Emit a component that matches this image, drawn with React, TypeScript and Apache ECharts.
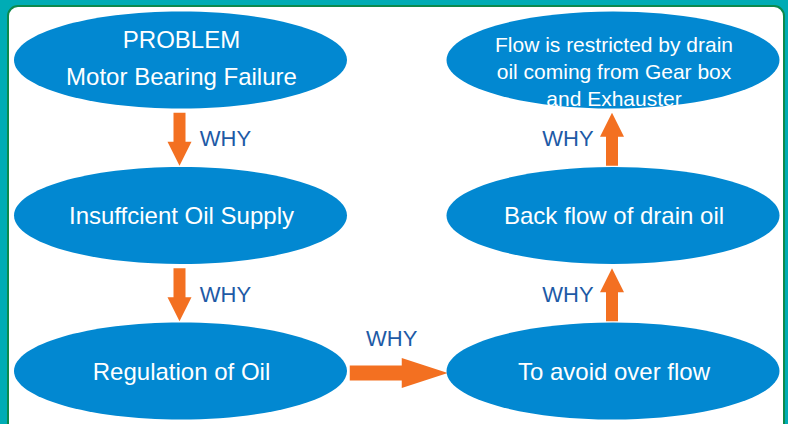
import React, { useEffect, useRef } from "react";
import * as echarts from "echarts";

// ---- Diagram content ----
const nodeLabels = [
  "PROBLEM\nMotor Bearing Failure",
  "Insuffcient Oil Supply",
  "Regulation of Oil",
  "To avoid over flow",
  "Back flow of drain oil",
  "Flow is restricted by drain\noil coming from Gear box\nand Exhauster",
];
const nodeCols = [0, 0, 0, 1, 1, 1];
const nodeRows = [0, 1, 2, 2, 1, 0];

const arrowFrom = [0, 1, 2, 3, 4];
const arrowTo = [1, 2, 3, 4, 5];
const arrowLabels = ["WHY", "WHY", "WHY", "WHY", "WHY"];

// ---- Styles ----
const FONT = '"Liberation Sans", Arial, Helvetica, sans-serif';
const BLUE = "#0288D1";
const ORANGE = "#F37021";
const WHY_COLOR = "#1E5AA6";
const TEAL = "#00ACB5";
const GREEN = "#0C8A4C";

const nodeTextStyle: Record<number, { size: number; lineHeight: number; dy: number }> = {
  0: { size: 24, lineHeight: 37, dy: -2.5 },
  5: { size: 21, lineHeight: 27, dy: 11 },
};
const defaultTextStyle = { size: 24, lineHeight: 28, dy: 0 };

export default function App() {
  const ref = useRef<HTMLDivElement | null>(null);

  useEffect(() => {
    if (!ref.current) return;
    const chart = echarts.init(ref.current, undefined, { renderer: "svg" });

    const nodeData = nodeLabels.map((_, i) => [nodeCols[i], nodeRows[i], i]);
    const arrowData = arrowFrom.map((f, i) => [f, arrowTo[i], i]);

    const option: any = {
      animation: false,
      backgroundColor: TEAL,
      grid: { left: 180.5, top: 60, width: 432.5, height: 311, containLabel: false },
      xAxis: { type: "value", min: 0, max: 1, show: false },
      yAxis: { type: "value", min: 0, max: 2, inverse: true, show: false },
      graphic: [
        {
          type: "rect",
          z: 0,
          shape: { x: 8, y: 6, width: 776, height: 440, r: 10 },
          style: { fill: "#ffffff", stroke: GREEN, lineWidth: 2 },
        },
      ],
      series: [
        {
          type: "custom",
          name: "arrows",
          coordinateSystem: "cartesian2d",
          z: 3,
          data: arrowData,
          encode: { x: 0, y: 1 },
          renderItem: (params: any, api: any) => {
            const a = api.value(0);
            const b = api.value(1);
            const idx = api.value(2);
            const p0 = api.coord([nodeCols[a], nodeRows[a]]);
            const p1 = api.coord([nodeCols[b], nodeRows[b]]);
            const dx = p1[0] - p0[0];
            const dy = p1[1] - p0[1];
            let pts: number[][];
            let whyX: number;
            let whyY: number;
            if (Math.abs(dx) > Math.abs(dy)) {
              const dir = Math.sign(dx);
              const cy = p0[1] + 2;
              const mid = (p0[0] + p1[0]) / 2 + 2;
              const L = 98, s = 15, w = 30, h = 46;
              const start = mid - (dir * L) / 2;
              const tip = mid + (dir * L) / 2;
              const neck = tip - dir * h;
              pts = [
                [start, cy - s / 2],
                [neck, cy - s / 2],
                [neck, cy - w / 2],
                [tip, cy],
                [neck, cy + w / 2],
                [neck, cy + s / 2],
                [start, cy + s / 2],
              ];
              whyX = (p0[0] + p1[0]) / 2 - 5;
              whyY = p0[1] - 33;
            } else {
              const dir = Math.sign(dy);
              const cx = p0[0] - 1;
              const mid = (p0[1] + p1[1]) / 2 + 1.5;
              const L = 53, s = 12, w = 24, h = 24;
              const start = mid - (dir * L) / 2;
              const tip = mid + (dir * L) / 2;
              const neck = tip - dir * h;
              pts = [
                [cx - s / 2, start],
                [cx - s / 2, neck],
                [cx - w / 2, neck],
                [cx, tip],
                [cx + w / 2, neck],
                [cx + s / 2, neck],
                [cx + s / 2, start],
              ];
              const side = p0[0] < api.getWidth() / 2 ? 1 : -1;
              whyX = p0[0] + side * 45;
              whyY = mid - 0.5;
            }
            return {
              type: "group",
              children: [
                {
                  type: "polygon",
                  shape: { points: pts },
                  style: { fill: ORANGE },
                },
                {
                  type: "text",
                  style: {
                    text: arrowLabels[idx],
                    x: whyX,
                    y: whyY,
                    fill: WHY_COLOR,
                    fontSize: 22,
                    fontFamily: FONT,
                    align: "center",
                    verticalAlign: "middle",
                  },
                },
              ],
            };
          },
        },
        {
          type: "custom",
          name: "nodes",
          coordinateSystem: "cartesian2d",
          z: 4,
          data: nodeData,
          encode: { x: 0, y: 1 },
          renderItem: (params: any, api: any) => {
            const i = api.value(2);
            const p = api.coord([api.value(0), api.value(1)]);
            const ts = nodeTextStyle[i] || defaultTextStyle;
            return {
              type: "group",
              children: [
                {
                  type: "ellipse",
                  shape: { cx: p[0], cy: p[1], rx: 166.5, ry: 48.5 },
                  style: { fill: BLUE },
                },
                {
                  type: "text",
                  style: {
                    text: nodeLabels[i],
                    x: p[0] + 1,
                    y: p[1] + ts.dy,
                    fill: "#ffffff",
                    fontSize: ts.size,
                    fontFamily: FONT,
                    align: "center",
                    verticalAlign: "middle",
                    lineHeight: ts.lineHeight,
                  },
                },
              ],
            };
          },
        },
      ],
    };

    chart.setOption(option);
    return () => {
      chart.dispose();
    };
  }, []);

  return (
    <div
      ref={ref}
      style={{ position: "absolute", left: 0, top: 0, width: 788, height: 424 }}
    />
  );
}
